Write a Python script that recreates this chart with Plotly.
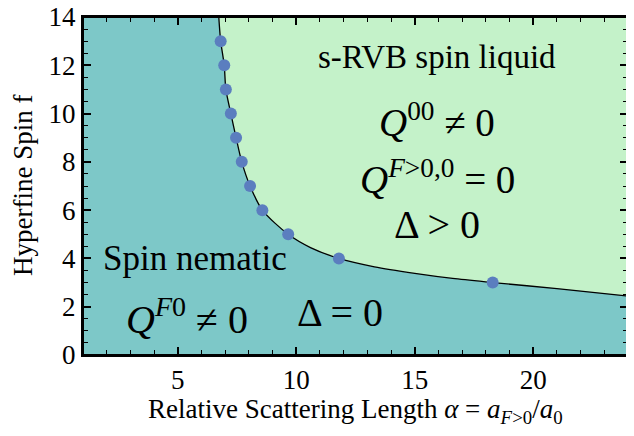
import plotly.graph_objects as go

# Phase boundary points (computed data points)
pts_alpha = [6.81, 6.96, 7.03, 7.24, 7.46, 7.70, 8.05, 8.57, 9.66, 11.80, 18.29]
pts_f = [13, 12, 11, 10, 9, 8, 7, 6, 5, 4, 3]

# Fitted boundary curve
curve_alpha = [6.73, 6.81, 6.96, 7.03, 7.24, 7.46, 7.70, 8.05, 8.57, 9.66, 10.6, 11.8, 13.3, 15.0, 16.6, 18.3, 21.0, 24.0]
curve_f = [14, 13, 12, 11, 10, 9, 8, 7, 6, 5, 4.45, 4.0, 3.65, 3.38, 3.17, 3.0, 2.75, 2.44]

x_range = [1, 24]
y_range = [0, 14]
x_ticks = [5, 10, 15, 20]
y_ticks = [0, 2, 4, 6, 8, 10, 12, 14]

TEAL = "#7dc8c8"
GREEN = "#c4f2c9"
DOT = "#5b7ebf"
FONT = "Liberation Serif"

fig = go.Figure()
# top edge for the liquid region
fig.add_trace(go.Scatter(x=[curve_alpha[0], x_range[1]], y=[y_range[1], y_range[1]],
                         mode="lines", line=dict(width=0, color=GREEN),
                         hoverinfo="skip", showlegend=False))
fig.add_trace(go.Scatter(x=curve_alpha, y=curve_f, mode="lines",
                         line=dict(color="black", width=1.3, shape="spline", smoothing=0.8),
                         fill="tonexty", fillcolor=GREEN, showlegend=False))
fig.add_trace(go.Scatter(x=pts_alpha, y=pts_f, mode="markers",
                         marker=dict(color=DOT, size=12), showlegend=False))

texts = [
    (15.94, 12.35, "s-RVB spin liquid", 33),
    (15.94, 9.73, "<i>Q</i><sup>00</sup> ≠ 0", 39),
    (15.94, 7.37, "<i>Q</i><sup><i>F</i>>0,0</sup> = 0", 39),
    (15.94, 5.39, "Δ > 0", 40),
    (5.73, 4.0, "Spin nematic", 35),
    (5.39, 1.6, "<i>Q</i><sup><i>F</i>0</sup> ≠ 0", 40),
    (11.84, 1.75, "Δ = 0", 40),
]
for x, y, t, s in texts:
    fig.add_annotation(x=x, y=y, text=t, showarrow=False,
                       font=dict(family=FONT, size=s, color="black"),
                       xanchor="center", yanchor="middle")

# axis titles as paper annotations
fig.add_annotation(xref="paper", yref="paper", x=0.5, y=-0.166,
                   text="Relative Scattering Length <i>α</i> = <i>a</i><sub><i>F</i>>0</sub>/<i>a</i><sub>0</sub>",
                   showarrow=False, xanchor="center", yanchor="middle",
                   font=dict(family=FONT, size=27, color="black"))
fig.add_annotation(xref="paper", yref="paper", x=-0.110, y=0.5, textangle=-90,
                   text="Hyperfine Spin f",
                   showarrow=False, xanchor="center", yanchor="middle",
                   font=dict(family=FONT, size=27, color="black"))

# frame
fig.add_shape(type="rect", xref="paper", yref="paper", x0=0, y0=0, x1=1, y1=1,
              line=dict(color="black", width=2), layer="above")

axis_common = dict(showline=True, linecolor="black", linewidth=2, mirror="ticks",
                   ticks="inside", ticklen=8, tickwidth=1.5, tickcolor="black",
                   showgrid=False, zeroline=False, automargin=False,
                   ticklabeloverflow="allow", layer="above traces",
                   tickfont=dict(family=FONT, size=27, color="black"))
fig.update_xaxes(range=x_range, tickvals=x_ticks,
                 minor=dict(ticks="inside", dtick=1, tick0=0, ticklen=5, tickcolor="black", tickwidth=1.2),
                 **axis_common)
fig.update_yaxes(range=y_range, tickvals=y_ticks,
                 minor=dict(ticks="inside", dtick=0.5, tick0=0, ticklen=5, tickcolor="black", tickwidth=1.2),
                 **axis_common)
fig.update_layout(width=634, height=436, margin=dict(l=75, r=14, t=9, b=89),
                  plot_bgcolor=TEAL, paper_bgcolor="white")
fig.write_html("out.html")
